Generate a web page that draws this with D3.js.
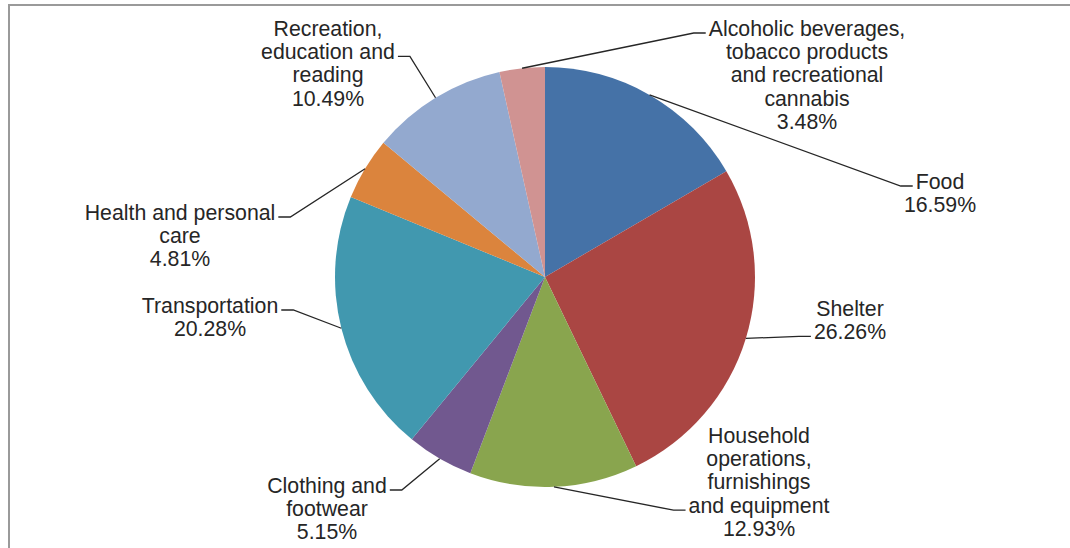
<!DOCTYPE html>
<html>
<head>
<meta charset="utf-8">
<script src="https://cdn.jsdelivr.net/npm/d3@7"></script>
<style>
  body { margin: 0; background: #fff; }
  svg { display: block; }
  .label { font-family: Arial, "Liberation Sans", sans-serif; font-size: 21.3px; fill: #262626; }
  .leader { fill: none; stroke: #262626; stroke-width: 1.3; }
</style>
</head>
<body>
<script>
// spending shares, clockwise from 12 o'clock
const categories = [
  "Food",
  "Shelter",
  "Household\noperations,\nfurnishings\nand equipment",
  "Clothing and\nfootwear",
  "Transportation",
  "Health and personal\ncare",
  "Recreation,\neducation and\nreading",
  "Alcoholic beverages,\ntobacco products\nand recreational\ncannabis"
];
const shares = [16.59, 26.26, 12.93, 5.15, 20.28, 4.81, 10.49, 3.48];
const colors = ["#4572a7", "#aa4643", "#89a54e", "#71588f", "#4198af", "#db843d", "#93a9cf", "#d09392"];

// where each label sits (centre x, first line centre y) and which line the leader hooks to
const labelLayout = [
  { x: 940, y: 181, hook: 0, side: "left" },
  { x: 850, y: 308, hook: 1, side: "left" },
  { x: 759, y: 435, hook: 3, side: "left" },
  { x: 327, y: 485, hook: 0, side: "right" },
  { x: 210, y: 305, hook: 0, side: "right" },
  { x: 180, y: 212, hook: 0, side: "right" },
  { x: 328, y: 28, hook: 1, side: "right" },
  { x: 807, y: 28, hook: 0, side: "left" }
];

const width = 1070, height = 548;
const cx = 545, cy = 277, radius = 210;
const lineGap = 23.4;

const svg = d3.select("body").append("svg")
    .attr("width", width)
    .attr("height", height);

// frame, only top and left edges show in the crop
svg.append("path")
    .attr("d", "M" + width + ",5H9V" + height)
    .attr("fill", "none")
    .attr("stroke", "#9a9a9a")
    .attr("stroke-width", 2);

const pie = d3.pie().sort(null).value(d => d);
const arcs = pie(shares);
const arc = d3.arc().innerRadius(0).outerRadius(radius);

const g = svg.append("g").attr("transform", "translate(" + cx + "," + cy + ")");

g.selectAll("path.slice")
    .data(arcs)
    .enter().append("path")
      .attr("class", "slice")
      .attr("d", arc)
      .attr("fill", (d, i) => colors[i]);

const pct = d3.format(".2f");

// labels: category lines plus the percentage underneath
const labels = svg.selectAll("g.lab")
    .data(arcs)
    .enter().append("g")
      .attr("class", "lab");

labels.each(function(d, i) {
  const lay = labelLayout[i];
  const lines = categories[i].split("\n").concat([pct(shares[i]) + "%"]);
  const grp = d3.select(this);
  const texts = grp.selectAll("text")
      .data(lines)
      .enter().append("text")
        .attr("class", "label")
        .attr("x", lay.x)
        .attr("y", (t, j) => lay.y + j * lineGap + 7.5)  // baseline from line centre
        .attr("text-anchor", "middle")
        .text(t => t);

  // leader line: pie edge at mid angle -> elbow -> beside the hooked text line
  const hookW = texts.nodes()[lay.hook].getComputedTextLength();
  const ly = lay.y + lay.hook * lineGap + 5;
  const ex = lay.side === "left" ? lay.x - hookW / 2 - 3 : lay.x + hookW / 2 + 3;
  const elbow = lay.side === "left" ? ex - 12 : ex + 12;
  const a = (d.startAngle + d.endAngle) / 2;
  const px = cx + radius * Math.sin(a);
  const py = cy - radius * Math.cos(a);

  grp.append("path")
      .attr("class", "leader")
      .attr("d", d3.line()([[px, py], [elbow, ly], [ex, ly]]));
});
</script>
</body>
</html>
